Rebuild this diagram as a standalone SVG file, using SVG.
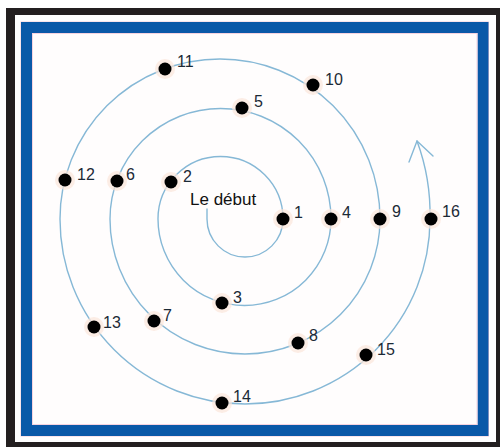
<svg xmlns="http://www.w3.org/2000/svg" width="500" height="447" viewBox="0 0 500 447">
<defs>
<style>
.spiral{fill:none;stroke:#86b8d6;stroke-width:1.4;stroke-linecap:round;stroke-linejoin:round}
.halo{fill:#fbe6da;opacity:0.7}
.dot{fill:#000}
.lbl{font-family:"Liberation Sans",Arial,sans-serif;font-size:16px;fill:#1c2a36}
.title{font-family:"Liberation Sans",Arial,sans-serif;font-size:17px;fill:#111}
</style>
</defs>
<g id="frame">
<rect x="6" y="8" width="500" height="445" fill="#231f20"/>
<rect x="15" y="15" width="481" height="427" fill="#ffffff"/>
<rect x="21" y="22" width="467.5" height="414" fill="none" stroke="#f3c9d8" stroke-width="1"/>
<rect x="26.5" y="27.5" width="456.5" height="403" fill="#fffdfd" stroke="#0a59a8" stroke-width="11"/>
<rect x="32.5" y="33.5" width="444.5" height="391" fill="none" stroke="#f6d3df" stroke-width="1"/>
</g>
<g id="connectors">
<path class="spiral" d="M207,209 L207,219 A38,38 0 0 0 283,219 A62.5,62.5 0 0 0 158,219 A86.5,86.5 0 0 0 331,219 A110.5,110.5 0 0 0 110,219 A135,135 0 0 0 380,219 A160,160 0 0 0 60,219 A185,185 0 0 0 430,219 A210,210 0 0 0 417,141"/>
<path class="spiral" d="M409,162 L417,141 L433,156"/>
</g>
<g id="title"><text class="title" x="190" y="205">Le début</text></g>
<g id="n1"><circle class="halo" cx="283" cy="219" r="10"/><circle class="dot" cx="283" cy="219" r="6.5"/><text class="lbl" x="294" y="218">1</text></g>
<g id="n2"><circle class="halo" cx="171" cy="182" r="10"/><circle class="dot" cx="171" cy="182" r="6.5"/><text class="lbl" x="183" y="182">2</text></g>
<g id="n3"><circle class="halo" cx="222" cy="303" r="10"/><circle class="dot" cx="222" cy="303" r="6.5"/><text class="lbl" x="233" y="303">3</text></g>
<g id="n4"><circle class="halo" cx="331" cy="219" r="10"/><circle class="dot" cx="331" cy="219" r="6.5"/><text class="lbl" x="342" y="218">4</text></g>
<g id="n5"><circle class="halo" cx="242" cy="108" r="10"/><circle class="dot" cx="242" cy="108" r="6.5"/><text class="lbl" x="254" y="107">5</text></g>
<g id="n6"><circle class="halo" cx="117" cy="181" r="10"/><circle class="dot" cx="117" cy="181" r="6.5"/><text class="lbl" x="126" y="180">6</text></g>
<g id="n7"><circle class="halo" cx="154" cy="321" r="10"/><circle class="dot" cx="154" cy="321" r="6.5"/><text class="lbl" x="163" y="321">7</text></g>
<g id="n8"><circle class="halo" cx="298" cy="343" r="10"/><circle class="dot" cx="298" cy="343" r="6.5"/><text class="lbl" x="309" y="341">8</text></g>
<g id="n9"><circle class="halo" cx="380" cy="219" r="10"/><circle class="dot" cx="380" cy="219" r="6.5"/><text class="lbl" x="392" y="217">9</text></g>
<g id="n10"><circle class="halo" cx="313" cy="85" r="10"/><circle class="dot" cx="313" cy="85" r="6.5"/><text class="lbl" x="325" y="85">10</text></g>
<g id="n11"><circle class="halo" cx="165" cy="69" r="10"/><circle class="dot" cx="165" cy="69" r="6.5"/><text class="lbl" x="177" y="67">11</text></g>
<g id="n12"><circle class="halo" cx="65" cy="180" r="10"/><circle class="dot" cx="65" cy="180" r="6.5"/><text class="lbl" x="77" y="180">12</text></g>
<g id="n13"><circle class="halo" cx="94" cy="327" r="10"/><circle class="dot" cx="94" cy="327" r="6.5"/><text class="lbl" x="103" y="328">13</text></g>
<g id="n14"><circle class="halo" cx="222" cy="403" r="10"/><circle class="dot" cx="222" cy="403" r="6.5"/><text class="lbl" x="233" y="402">14</text></g>
<g id="n15"><circle class="halo" cx="366" cy="355" r="10"/><circle class="dot" cx="366" cy="355" r="6.5"/><text class="lbl" x="377" y="355">15</text></g>
<g id="n16"><circle class="halo" cx="431" cy="219" r="10"/><circle class="dot" cx="431" cy="219" r="6.5"/><text class="lbl" x="442" y="217">16</text></g>
</svg>
